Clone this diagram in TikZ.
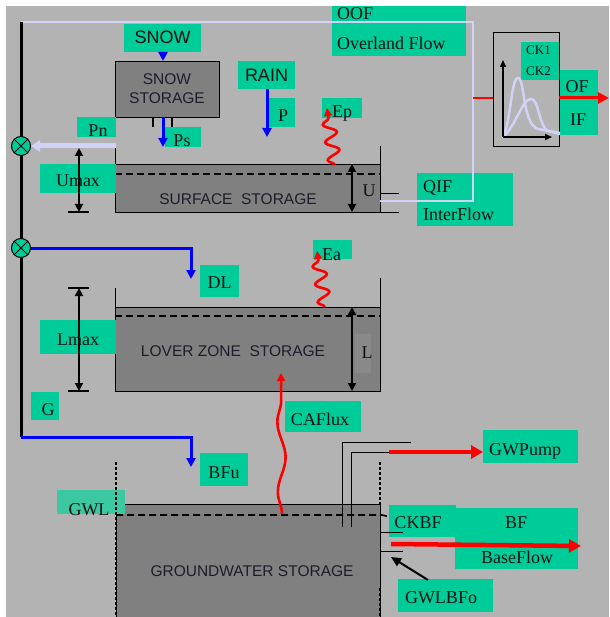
\documentclass[tikz,border=0pt]{standalone}
\usepackage{fontspec}
\setmainfont{Liberation Serif}
\setsansfont{Liberation Sans}
\usetikzlibrary{arrows.meta,decorations.pathmorphing}
\definecolor{bg}{HTML}{B3B3B3}
\definecolor{lgreen}{HTML}{00CC99}
\definecolor{gwlgreen}{HTML}{3CC8A0}
\definecolor{store}{HTML}{808080}
\definecolor{storelt}{HTML}{898989}
\definecolor{lav}{HTML}{D2D2F6}
\definecolor{txt}{HTML}{111111}
\definecolor{stxt}{HTML}{1E1E2A}
\newcommand{\gbx}[6][lgreen]{\node[gbox, fill=#1, minimum width={(#5)-(#3)}, minimum height={(#6)-(#4)}] (#2) at ({((#3)+(#5))/2},{((#4)+(#6))/2}) {};}
\begin{document}
\begin{tikzpicture}[x=1pt,y=-1pt,
  gbox/.style={inner sep=0pt, outer sep=0pt, draw=none},
  lab/.style={font=\fontsize{18}{20}\selectfont, text=txt, inner sep=0pt},
  slab/.style={font=\sffamily\fontsize{18}{20}\selectfont, text=txt, inner sep=0pt},
  smalllab/.style={font=\fontsize{13}{15}\selectfont, text=txt, inner sep=0pt},
  stortxt/.style={font=\sffamily\fontsize{15.5}{18}\selectfont, text=stxt, inner sep=0pt},
  storage/.style={fill=store, draw=black, line width=0.9pt},
  wall/.style={draw=black, line width=0.9pt},
  level/.style={draw=black, line width=1.6pt, dash pattern=on 7pt off 4pt},
  dotwall/.style={draw=black, line width=1.4pt, dash pattern=on 3pt off 2pt},
  bluearr/.style={draw=blue, line width=3pt, -{Triangle[length=9pt,width=9pt]}},
  redarr/.style={draw=red, line width=4.5pt, -{Triangle[length=12pt,width=13pt]}},
  dimarr/.style={draw=black, line width=1.8pt, {Triangle[length=8pt,width=8pt]}-{Triangle[length=8pt,width=8pt]}},
  lavline/.style={draw=lav, line width=2pt},
  wave/.style={draw=red, line width=2.6pt, -{Triangle[length=8pt,width=8pt]}, decorate},
  junction/.style={circle, draw=black, fill=lgreen, line width=1pt, minimum size=19pt, inner sep=0pt},
]
\useasboundingbox (0,0) rectangle (609,617);
\fill[bg] (6,6) rectangle (609,617);

% ---------- storages ----------
\node[storage, minimum width=104pt, minimum height=56pt, inner sep=0pt] (snowst) at (167,89) {};
% surface storage
\fill[store] (115,164) rectangle (380,212);
\draw[wall] (115,146) -- (115,212) -- (380,212) -- (380,146);
\draw[wall] (115,164) -- (380,164);
\draw[level] (115,174) -- (381,174);
\draw[wall] (380,193) -- (399,193);
\draw[wall] (380,212) -- (399,212);
% lower zone storage
\fill[store] (115,307) rectangle (380,391);
\fill[storelt] (355,334) rectangle (371,373);
\draw[wall] (115,288) -- (115,391) -- (380,391) -- (380,278);
\draw[wall] (115,307) -- (380,307);
\draw[level] (115,316) -- (381,316);
% groundwater storage
\fill[store] (116,504) rectangle (380,617);
\draw[wall] (116,617) -- (116,504) -- (380,504) -- (380,617);

% ---------- green boxes ----------
\gbx{oofbox}{332}{6}{466}{56}
\gbx{snowbox}{124}{24}{201}{52}
\gbx{rainbox}{238}{61}{295}{89}
\gbx{pbox}{269}{98}{295}{127}
\gbx{psbox}{165}{127}{201}{147}
\gbx{pnbox}{77}{117}{116}{137}
\gbx{umaxbox}{40}{164}{116}{193}
\gbx{epbox}{322}{98}{362}{118}
\gbx{qifbox}{417}{173}{513}{226}
\gbx{ckbox}{521}{42}{559}{80}
\gbx{ofbox}{559}{70}{598}{135}
\gbx{dlbox}{200}{265}{239}{297}
\gbx{eabox}{313}{240}{352}{259}
\gbx{lmaxbox}{40}{320}{116}{354}
\gbx{gbox1}{31}{392}{59}{420}
\gbx{cafbox}{285}{401}{361}{432}
\gbx{bfubox}{200}{453}{248}{486}
\gbx[gwlgreen]{gwlbox}{57}{490}{125}{514}
\gbx{pumpbox}{483}{430}{578}{463}
\gbx{ckbfbox}{389}{505}{456}{537}
\gbx{bfbox}{455}{508}{578}{569}
\gbx{gwlbfobox}{398}{579}{493}{612}

% groundwater levels and walls
\draw[level] (116,515) -- (382,515) -- (390,517);
\draw[dotwall] (116,462) -- (116,617);
\draw[dotwall] (380,462) -- (380,504);
\draw[dotwall] (380,588) -- (380,617);
\draw[wall] (380,532) -- (403,532);
\draw[wall] (380,551) -- (403,551);
% pump pipes
\draw[wall] (342,527) -- (342,442) -- (411,442);
\draw[wall] (351,527) -- (351,452) -- (408,452);

% ---------- flow lines ----------
\coordinate (topleft) at (21,22);
\coordinate (toprt) at (473,22);
\coordinate (botrt) at (473,201);
\coordinate (uout) at (380,201);
\draw[lavline] (topleft) -- (toprt) -- (botrt) -- (uout);
\coordinate (gbot) at (21,437);
\draw[black, line width=3pt] (topleft) -- (gbot);
\node[junction] (j1) at (21,146) {};
\node[junction] (j2) at (21,248) {};
\draw[line width=1pt] (j1.north west) -- (j1.south east) (j1.north east) -- (j1.south west);
\draw[line width=1pt] (j2.north west) -- (j2.south east) (j2.north east) -- (j2.south west);

% hydrograph
\node[draw=black, line width=0.9pt, minimum width=66pt, minimum height=114pt, inner sep=0pt] (hydro) at (526,89) {};
\coordinate (hyin) at (473,98);
\draw[red, line width=2pt] (hyin) -- (hyin -| hydro.west);
\coordinate (org) at (503,137);
\draw[lav, line width=2.5pt] (org) .. controls (511,122) and (511,78) .. (518,78) .. controls (525,78) and (522,124) .. (538,129) -- (560,133);
\draw[lav, line width=2.5pt] (org) .. controls (516,126) and (522,99) .. (531,99) .. controls (539,99) and (539,127) .. (548,131) -- (560,134);
\draw[black, line width=1.5pt, -{Triangle[length=7pt,width=6pt]}] (org) -- (503,60);
\draw[black, line width=1.5pt, -{Triangle[length=7pt,width=6pt]}] (org) -- (552,137);
\coordinate (ofend) at (609,98);
\draw[draw=red, line width=3pt, -{Triangle[length=11pt,width=11pt]}] (hyin -| hydro.east) -- (ofend);

% snow / rain
\coordinate (ps1) at (163,147);
\draw[bluearr] (snowbox.south -| 163,0) -- (163,61);
\draw[draw=black, line width=1.2pt] (153,117) -- (153,127) (172,117) -- (172,127);
\draw[bluearr] (163,117) -- (ps1);
\coordinate (pend) at (267,137);
\draw[bluearr] (rainbox.south -| pend) -- (pend);

% Pn arrow
\coordinate (pnstart) at (116,146);
\draw[draw=lav, line width=5pt, -{Triangle[length=9pt,width=11pt]}] (pnstart) -- (j1.east);

% dimension arrows
\draw[dimarr] (79,148) -- (79,212);
\draw[wall, line width=1.2pt] (68,212) -- (89,212);
\draw[dimarr] (352,164) -- (352,212);
\draw[dimarr] (79,288) -- (79,391);
\draw[wall, line width=1.2pt] (68,288) -- (89,288) (68,391) -- (89,391);
\draw[dimarr] (352,307) -- (352,391);

% percolation arrows
\coordinate (dlend) at (191,279);
\draw[bluearr] (j2.east) -- (dlend |- j2.east) -- (dlend);
\coordinate (bfuend) at (191,467);
\draw[bluearr] (gbot) -- (bfuend |- gbot) -- (bfuend);

% evaporation waves
\coordinate (ep0) at (335,165);
\coordinate (ep1) at (327,108);
\draw[wave, decoration={snake, amplitude=6.5pt, segment length=18pt, post length=8pt}] (ep0) -- (ep1);
\coordinate (ea0) at (325,307);
\coordinate (ea1) at (317,251);
\draw[wave, decoration={snake, amplitude=6.5pt, segment length=18pt, post length=8pt}] (ea0) -- (ea1);
\coordinate (ca0) at (282,514);
\coordinate (ca1) at (281,373);
\draw[wave, decoration={snake, amplitude=4pt, segment length=70pt, post length=10pt}] (ca0) -- (ca1);

% groundwater outflows
\coordinate (pump0) at (389,452);
\draw[redarr] (pump0) -- (pumpbox.west |- pump0);
\coordinate (bf0) at (391,544);
\coordinate (bf1) at (581,546);
\draw[redarr] (bf0) -- (bf1);
\coordinate (gwlbfotip) at (391,557);
\draw[draw=black, line width=2pt, -{Triangle[length=10pt,width=9pt]}] (428,580) -- (gwlbfotip);

% ---------- texts ----------
\node[lab, anchor=base west] (ooft) at (337,20) {OOF};
\node[lab, anchor=base west] (olt) at (337,50) {Overland Flow};
\node[slab, anchor=base] (snowt) at (162.5,43.5) {SNOW};
\node[stortxt, anchor=base] (snowst1) at (167,85) {SNOW};
\node[stortxt, anchor=base] (snowst2) at (167,104) {STORAGE};
\node[slab, anchor=base] (raint) at (266.5,82) {RAIN};
\node[lab, anchor=base] (pt) at (283,122) {P};
\node[lab, anchor=base] (pst) at (182,147) {Ps};
\node[lab, anchor=base] (pnt) at (98,137) {Pn};
\node[lab, anchor=base] (umaxt) at (78,187) {Umax};
\node[stortxt, anchor=base] (surft) at (238,205) {SURFACE\ \ STORAGE};
\node[lab, anchor=base] (ut) at (369,197) {U};
\node[lab, anchor=base west] (ept) at (332,118) {Ep};
\node[lab, anchor=base west] (qift) at (423,193) {QIF};
\node[lab, anchor=base west] (ift) at (423,221) {InterFlow};
\node[smalllab, anchor=base west] (ck1t) at (526,55) {CK1};
\node[smalllab, anchor=base west] (ck2t) at (526,76) {CK2};
\node[lab, anchor=base] (oft) at (577,93) {OF};
\node[lab, anchor=base] (ifft) at (578,126) {IF};
\node[lab, anchor=base] (dlt) at (219.5,288) {DL};
\node[lab, anchor=base west] (eat) at (322,260) {Ea};
\node[lab, anchor=base] (lmaxt) at (78,345) {Lmax};
\node[stortxt, anchor=base] (lowt) at (233,356) {LOVER ZONE\ \ STORAGE};
\node[lab, anchor=base] (lt) at (367,358) {L};
\node[lab, anchor=base] (gt) at (48,415) {G};
\node[lab, anchor=base] (caft) at (320,425) {CAFlux};
\node[lab, anchor=base] (bfut) at (224,478) {BFu};
\node[lab, anchor=base] (gwlt) at (89,515) {GWL};
\node[stortxt, anchor=base] (gwt) at (252,576) {GROUNDWATER STORAGE};
\node[lab, anchor=base] (pumpt) at (525,455) {GWPump};
\node[lab, anchor=base] (ckbft) at (418,528) {CKBF};
\node[lab, anchor=base] (bft) at (516,528) {BF};
\node[lab, anchor=base] (bflt) at (517,563) {BaseFlow};
\node[lab, anchor=base] (gwlbfot) at (441,603) {GWLBFo};
\end{tikzpicture}
\end{document}
